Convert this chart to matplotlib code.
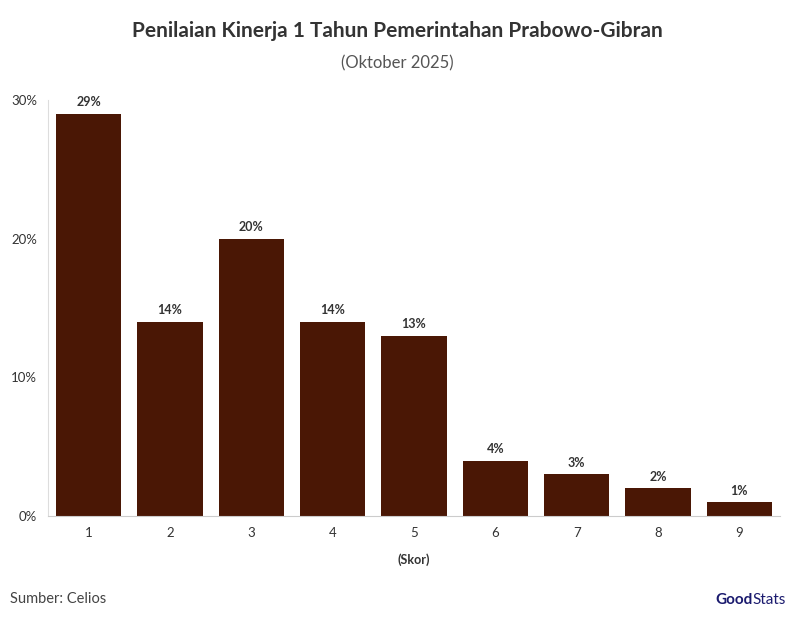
import matplotlib
matplotlib.use("Agg")
import matplotlib.pyplot as plt

categories = ["1", "2", "3", "4", "5", "6", "7", "8", "9"]
values = [29, 14, 20, 14, 13, 4, 3, 2, 1]
yticks = [0, 10, 20, 30]

plt.rcParams['font.family'] = ['Lato', 'DejaVu Sans']
fig = plt.figure(figsize=(7.94, 6.2), dpi=100)
W, H = 794, 620
ax = fig.add_axes([48/W, 1-516/H, (780-48)/W, (516-100)/H])
x = list(range(len(categories)))
ax.bar(x, values, width=0.8, color="#4a1705")
for xi, v in zip(x, values):
    ax.text(xi, v + 0.4, f"{v}%", ha="center", va="bottom", fontsize=9, fontweight="bold", color="#333333")
ax.set_xlim(-0.5, 8.5)
ax.set_ylim(0, 30)
ax.set_xticks(x, categories)
ax.set_yticks(yticks, [f"{t}%" for t in yticks])
ax.tick_params(axis="both", labelsize=9.5, colors="#333333", length=0)
ax.tick_params(axis="x", pad=8)
ax.tick_params(axis="y", pad=8)
for s in ["top", "right"]:
    ax.spines[s].set_visible(False)
ax.spines["left"].set_color("#dddddd")
ax.spines["bottom"].set_color("#cccccc")
ax.set_xlabel("(Skor)", fontsize=9, fontweight="bold", color="#333333", labelpad=10)

fig.text(397/W, 1-31/H, "Penilaian Kinerja 1 Tahun Pemerintahan Prabowo-Gibran", ha="center", va="center",
         fontsize=15, fontweight="bold", color="#333333")
fig.text(397/W, 1-63/H, "(Oktober 2025)", ha="center", va="center", fontsize=12, color="#555555")
fig.text(10/W, 1-599/H, "Sumber: Celios", ha="left", va="center", fontsize=10.5, color="#444444")
fig.text(715/W, 1-600/H, "Good", ha="left", va="center", fontsize=11, fontweight="bold", color="#1a1a6e")
fig.text(752/W, 1-600/H, "Stats", ha="left", va="center", fontsize=11, color="#1a1a6e")
fig.savefig("out.png", dpi=100)
